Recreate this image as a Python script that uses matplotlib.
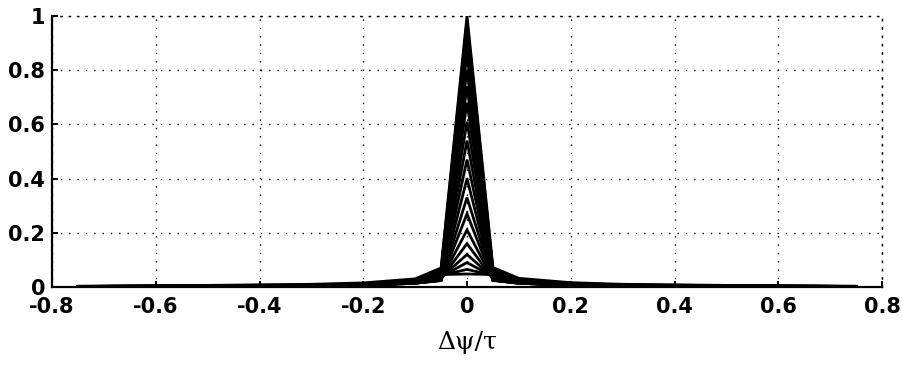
"""Family of peaked distributions vs. normalised phase offset (scanned MATLAB figure)."""

import matplotlib
matplotlib.use("Agg")
import matplotlib.pyplot as plt

# sample positions shared by every curve
dpsi = [-0.75, -0.5, -0.3, -0.2, -0.1, -0.05, 0.0, 0.05, 0.1, 0.2, 0.3, 0.5, 0.75]

# one row per curve (peak at 0, thin tails)
curves = [
    [0.003, 0.006, 0.010, 0.015, 0.030, 0.070, 1.000, 0.072, 0.032, 0.016, 0.010, 0.006, 0.003],
    [0.002, 0.005, 0.008, 0.012, 0.026, 0.062, 0.980, 0.063, 0.027, 0.013, 0.008, 0.005, 0.002],
    [0.002, 0.004, 0.007, 0.010, 0.022, 0.054, 0.950, 0.055, 0.023, 0.011, 0.007, 0.004, 0.002],
    [0.002, 0.004, 0.006, 0.009, 0.020, 0.047, 0.910, 0.048, 0.021, 0.010, 0.006, 0.004, 0.002],
    [0.001, 0.003, 0.005, 0.008, 0.018, 0.041, 0.860, 0.042, 0.019, 0.009, 0.005, 0.003, 0.001],
    [0.001, 0.003, 0.005, 0.008, 0.017, 0.037, 0.800, 0.037, 0.018, 0.008, 0.005, 0.003, 0.001],
    [0.001, 0.003, 0.005, 0.007, 0.016, 0.033, 0.740, 0.033, 0.017, 0.008, 0.005, 0.003, 0.001],
    [0.001, 0.003, 0.004, 0.007, 0.015, 0.030, 0.680, 0.031, 0.016, 0.007, 0.004, 0.003, 0.001],
    [0.001, 0.002, 0.004, 0.007, 0.015, 0.028, 0.610, 0.029, 0.015, 0.007, 0.004, 0.002, 0.001],
    [0.001, 0.002, 0.004, 0.006, 0.014, 0.026, 0.540, 0.027, 0.014, 0.006, 0.004, 0.002, 0.001],
    [0.001, 0.002, 0.004, 0.006, 0.014, 0.025, 0.470, 0.025, 0.014, 0.006, 0.004, 0.002, 0.001],
    [0.001, 0.002, 0.004, 0.006, 0.014, 0.024, 0.400, 0.024, 0.014, 0.006, 0.004, 0.002, 0.001],
    [0.001, 0.002, 0.004, 0.006, 0.014, 0.024, 0.330, 0.025, 0.014, 0.006, 0.004, 0.002, 0.001],
    [0.001, 0.002, 0.004, 0.006, 0.015, 0.026, 0.270, 0.026, 0.015, 0.006, 0.004, 0.002, 0.001],
    [0.001, 0.002, 0.004, 0.007, 0.016, 0.028, 0.210, 0.028, 0.016, 0.007, 0.004, 0.002, 0.001],
    [0.001, 0.003, 0.005, 0.007, 0.017, 0.031, 0.160, 0.031, 0.017, 0.007, 0.005, 0.003, 0.001],
    [0.001, 0.003, 0.005, 0.008, 0.018, 0.035, 0.120, 0.035, 0.018, 0.008, 0.005, 0.003, 0.001],
    [0.002, 0.003, 0.005, 0.009, 0.019, 0.039, 0.090, 0.039, 0.020, 0.009, 0.005, 0.003, 0.002],
    [0.002, 0.004, 0.006, 0.010, 0.021, 0.043, 0.065, 0.043, 0.021, 0.010, 0.006, 0.004, 0.002],
    [0.002, 0.004, 0.007, 0.011, 0.023, 0.046, 0.048, 0.046, 0.023, 0.011, 0.007, 0.004, 0.002],
]

xticks = [-0.8, -0.6, -0.4, -0.2, 0, 0.2, 0.4, 0.6, 0.8]
yticks = [0, 0.2, 0.4, 0.6, 0.8, 1]
xticklabels = ["-0.8", "-0.6", "-0.4", "-0.2", "0", "0.2", "0.4", "0.6", "0.8"]
yticklabels = ["0", "0.2", "0.4", "0.6", "0.8", "1"]

fig = plt.figure(figsize=(9.02, 3.68), dpi=100)
ax = fig.add_axes([52 / 902, 1 - 287 / 368, 830 / 902, 271 / 368])

for row in curves:
    ax.plot(dpsi, row, color="black", lw=2.0, solid_joinstyle="miter")

ax.set_xlim(-0.8, 0.8)
ax.set_ylim(0, 1)
ax.set_xticks(xticks)
ax.set_xticklabels(xticklabels)
ax.set_yticks(yticks)
ax.set_yticklabels(yticklabels)

dots = (0, (1, 5))
ax.grid(True, color="black", linestyle=dots, linewidth=1.0)
for side in ("left", "bottom"):
    ax.spines[side].set_linewidth(1.6)
for side in ("top", "right"):
    ax.spines[side].set_linestyle(dots)
    ax.spines[side].set_linewidth(1.0)

ax.tick_params(direction="in", length=4, width=1.4, pad=5,
               top=False, right=False)
ax.tick_params(axis="x", pad=7.5)
for lab in ax.get_xticklabels() + ax.get_yticklabels():
    lab.set_fontfamily("DejaVu Sans")
    lab.set_fontweight("bold")
    lab.set_fontsize(15)

ax.set_xlabel("\u0394\u03c8/\u03c4", fontfamily="DejaVu Serif", fontsize=18, labelpad=10)

fig.savefig("out.png", dpi=100)
